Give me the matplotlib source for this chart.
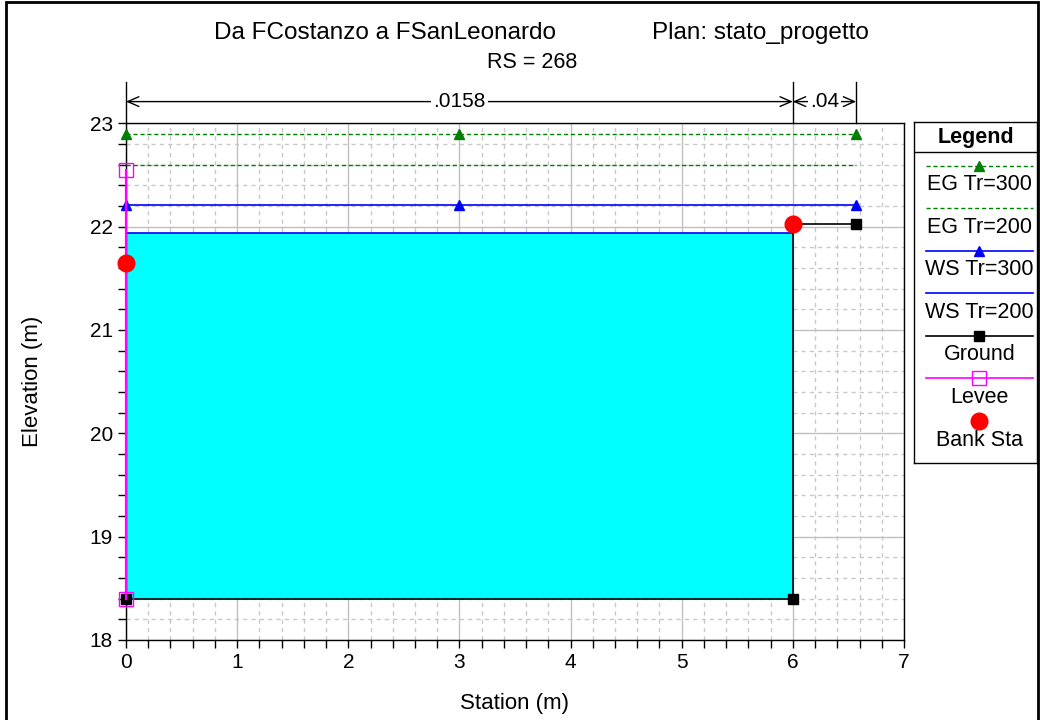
import matplotlib
matplotlib.use('Agg')
import matplotlib.pyplot as plt
from matplotlib.patches import Rectangle
from matplotlib.ticker import MultipleLocator

plt.rcParams['font.family'] = ['Liberation Sans', 'DejaVu Sans']

# sezione trasversale RS 268
ground_x = [0, 0, 6, 6, 6.57]
ground_y = [21.65, 18.40, 18.40, 22.03, 22.03]
levee_x = [0, 0]
levee_y = [18.40, 22.55]
bank_x = [0, 6]
bank_y = [21.65, 22.03]

# profili (stazioni dei marker)
prof_x = [0, 3, 6.57]
eg300 = 22.90
eg200 = 22.60
ws300 = 22.21
ws200 = 21.94
ws200_x = [0, 6]

# coefficienti di Manning
n_edges = [0, 6, 6.57]
n_vals = ['.0158', '.04']

W, H = 1040, 720
fig = plt.figure(figsize=(W / 100, H / 100), dpi=100)
ax = fig.add_axes([126 / W, 1 - 640 / H, (904 - 126) / W, (640 - 123.3) / H])

ax.set_xlim(0, 7)
ax.set_ylim(18, 23)
ax.xaxis.set_major_locator(MultipleLocator(1))
ax.xaxis.set_minor_locator(MultipleLocator(0.2))
ax.yaxis.set_major_locator(MultipleLocator(1))
ax.yaxis.set_minor_locator(MultipleLocator(0.2))
ax.grid(which='major', color='#c0c0c0', lw=1, ls='-', zorder=0)
ax.grid(which='minor', color='#c8c8c8', lw=1, ls=(0, (3, 3)), zorder=0)
ax.set_axisbelow(True)
ax.tick_params(which='both', direction='out', length=6, width=1, labelsize=15, color='black')
for s in ax.spines.values():
    s.set_linewidth(1)

# acqua
ax.fill_between(ws200_x, [ground_y[1]] * 2, [ws200] * 2, color='#00ffff', lw=0, zorder=1)

green = '#008000'
ax.plot(prof_x, [eg300] * 3, color=green, ls=(0, (3, 2)), lw=1, marker='^', ms=7, zorder=3, clip_on=False)
ax.plot([prof_x[0], prof_x[-1]], [eg200] * 2, color=green, ls=(0, (3, 2)), lw=1, zorder=3)
ax.plot(prof_x, [ws300] * 3, color='#0000ff', lw=1.2, marker='^', ms=7, zorder=3, clip_on=False)
ax.plot(ws200_x, [ws200] * 2, color='#0000ff', lw=1.2, zorder=3)
ax.plot(ground_x, ground_y, color='black', lw=1.2, marker='s', ms=7, zorder=4, clip_on=False)
ax.plot(levee_x, levee_y, color='#ff00ff', lw=1.6, marker='s', ms=10, mfc='none', mec='#ff00ff',
        zorder=5, clip_on=False)
ax.plot(bank_x, bank_y, ls='none', marker='o', ms=12, color='#ff0000', zorder=6, clip_on=False)

# quote dei coefficienti di Manning sopra il grafico
y_dim, y_ext = 23.21, 23.40
for xe in n_edges:
    ax.plot([xe, xe], [23, y_ext], color='black', lw=1, clip_on=False, zorder=5)
for i, lab in enumerate(n_vals):
    a, b = n_edges[i], n_edges[i + 1]
    ax.annotate('', xy=(a, y_dim), xytext=(b, y_dim), annotation_clip=False,
                arrowprops=dict(arrowstyle='<->,head_length=0.8,head_width=0.35', lw=1, color='black',
                                shrinkA=0, shrinkB=0))
    ax.text((a + b) / 2, y_dim, lab, ha='center', va='center', fontsize=15, clip_on=False,
            bbox=dict(facecolor='white', edgecolor='none', pad=1.5), zorder=6)

ax.set_xlabel('Station (m)', fontsize=16)
ax.set_ylabel('Elevation (m)', fontsize=16)
ax.xaxis.set_label_coords(0.5, -0.102)
ax.yaxis.set_label_coords(-0.107, 0.5)

fig.text(385 / W, 1 - 33 / H, 'Da FCostanzo a FSanLeonardo', ha='center', va='center', fontsize=17.5)
fig.text(760 / W, 1 - 33 / H, 'Plan: stato_progetto', ha='center', va='center', fontsize=17.5)
fig.text(532 / W, 1 - 63 / H, 'RS = 268', ha='center', va='center', fontsize=15.5)

# legenda in stile HEC-RAS
lx0, lx1, ly0, ly1 = 914, 1037, 122, 463
lax = fig.add_axes([lx0 / W, 1 - ly1 / H, (lx1 - lx0) / W, (ly1 - ly0) / H])
lax.set_xlim(lx0, lx1)
lax.set_ylim(ly1, ly0)
lax.set_xticks([])
lax.set_yticks([])
for s in lax.spines.values():
    s.set_linewidth(1)
lax.text((lx0 + lx1) / 2, 137, 'Legend', ha='center', va='center', fontsize=15.5, fontweight='bold')
lax.axhline(152.3, color='black', lw=1)

xs = [926, 1033]
xm = [(xs[0] + xs[1]) / 2]
items = [
    ('EG Tr=300', dict(color=green, ls=(0, (3, 2)), lw=1), dict(marker='^', ms=7, color=green)),
    ('EG Tr=200', dict(color=green, ls=(0, (3, 2)), lw=1), None),
    ('WS Tr=300', dict(color='#0000ff', lw=1.2), dict(marker='^', ms=7, color='#0000ff')),
    ('WS Tr=200', dict(color='#0000ff', lw=1.2), None),
    ('Ground', dict(color='black', lw=1.2), dict(marker='s', ms=7, color='black')),
    ('Levee', dict(color='#ff00ff', lw=1.2), dict(marker='s', ms=10, mfc='none', mec='#ff00ff')),
    ('Bank Sta', None, dict(marker='o', ms=12, color='#ff0000')),
]
for k, (lab, lstyle, mstyle) in enumerate(items):
    yl = 165.7 + 42.55 * k
    if lstyle is not None:
        lax.plot(xs, [yl, yl], **lstyle)
    if mstyle is not None:
        lax.plot(xm, [yl], ls='none', **mstyle)
    lax.text(xm[0], yl + 19, lab, ha='center', va='center', fontsize=15.5)

# cornice esterna
fig.add_artist(Rectangle((5.5 / W, -0.01), (1038 - 5.5) / W, 1.01 - 1.5 / H, transform=fig.transFigure,
                         fill=False, lw=2, edgecolor='black'))

fig.savefig('out.png', dpi=100)
